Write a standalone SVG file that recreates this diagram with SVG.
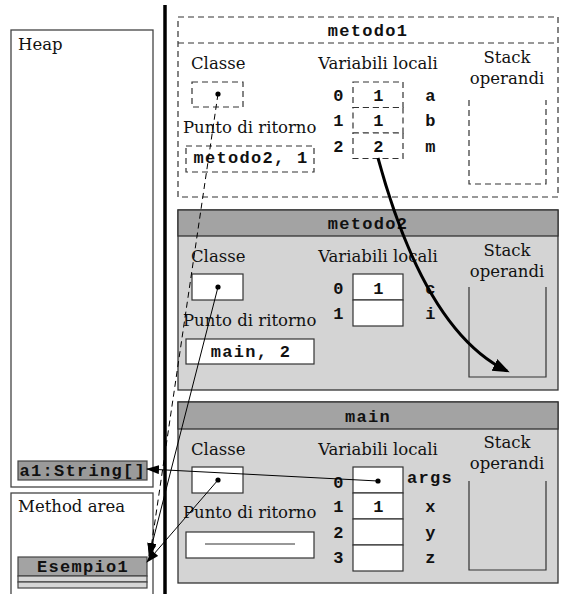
<svg xmlns="http://www.w3.org/2000/svg" width="570" height="594" viewBox="0 0 570 594">
<style>
.serif{font-family:"DejaVu Serif","Liberation Serif",serif;font-size:16.5px;fill:#111}
.mono{font-family:"Liberation Mono","DejaVu Sans Mono",monospace;font-size:17px;font-weight:bold;letter-spacing:1.3px;fill:#111}
.mid{text-anchor:middle}
.box{fill:#fff;stroke:#333;stroke-width:1.2}
.dbox{fill:#fff;stroke:#333;stroke-width:1.2;stroke-dasharray:6 4}
.frame{fill:#d4d4d4;stroke:#333;stroke-width:1.3}
.head{fill:#a3a3a3;stroke:#333;stroke-width:1.3}
.u{fill:none;stroke:#333;stroke-width:1.2}
.du{fill:none;stroke:#333;stroke-width:1.2;stroke-dasharray:6 4}
.dot{fill:#000}
.conn{fill:none;stroke:#000;stroke-width:1}
</style>
<defs>
<marker id="ah" markerUnits="userSpaceOnUse" markerWidth="14" markerHeight="10" refX="12" refY="4.5" orient="auto">
<path d="M0,0 L13,4.5 L0,9 z" fill="#000"/>
</marker>
<marker id="ahb" markerUnits="userSpaceOnUse" markerWidth="18" markerHeight="14" refX="14" refY="6.5" orient="auto">
<path d="M0,0 L17,6.5 L0,13 z" fill="#000"/>
</marker>
</defs>
<rect width="570" height="594" fill="#fff"/>
<g id="heap">
<rect x="11" y="30" width="142" height="457" fill="#fff" stroke="#444" stroke-width="1.3"/>
<text class="serif" x="18" y="50">Heap</text>
</g>
<g id="method-area">
<rect x="11" y="493" width="142" height="110" fill="#fff" stroke="#444" stroke-width="1.3"/>
<text class="serif" x="18" y="512">Method area</text>
</g>
<g id="a1">
<rect x="18" y="461" width="129" height="19" fill="#9a9a9a" stroke="#444" stroke-width="1.2"/>
<text class="mono" x="19.5" y="476">a1:String[]</text>
</g>
<g id="esempio1">
<rect x="18" y="557" width="129" height="19" fill="#a3a3a3" stroke="#444" stroke-width="1.2"/>
<rect x="18" y="576" width="129" height="6" fill="#d6d6d6" stroke="#444" stroke-width="1.2"/>
<rect x="18" y="582" width="129" height="6" fill="#d6d6d6" stroke="#444" stroke-width="1.2"/>
<text class="mono mid" x="83" y="572">Esempio1</text>
</g>
<line x1="165" y1="5" x2="165" y2="594" stroke="#000" stroke-width="3.5"/>
<g id="metodo1">
<rect class="dbox" x="178" y="17" width="380" height="180"/>
<line class="du" x1="178" y1="43" x2="558" y2="43"/>
<text class="mono mid" x="368" y="36">metodo1</text>
<text class="serif" x="191" y="69">Classe</text>
<text class="serif mid" x="378" y="69">Variabili locali</text>
<text class="serif mid" x="507" y="63">Stack</text>
<text class="serif mid" x="507" y="84">operandi</text>
<rect class="dbox" x="192" y="82" width="51" height="25"/>
<text class="serif" x="183" y="133">Punto di ritorno</text>
<rect class="dbox" x="186" y="146" width="128" height="26"/>
<text class="mono mid" x="251" y="163">metodo2, 1</text>
<rect class="dbox" x="353" y="82" width="50" height="25.5"/>
<rect class="dbox" x="353" y="107.5" width="50" height="25.5"/>
<rect class="dbox" x="353" y="133" width="50" height="25.5"/>
<text class="mono mid" x="339" y="101">0</text>
<text class="mono mid" x="339" y="126">1</text>
<text class="mono mid" x="339" y="152">2</text>
<text class="mono mid" x="379" y="101">1</text>
<text class="mono mid" x="379" y="126">1</text>
<text class="mono mid" x="379" y="152">2</text>
<text class="mono mid" x="431" y="101">a</text>
<text class="mono mid" x="431" y="126">b</text>
<text class="mono mid" x="431" y="152">m</text>
<path class="du" d="M469,100 V184 H546 V100"/>
</g>
<g id="metodo2">
<rect class="frame" x="178" y="210" width="380" height="180"/>
<rect class="head" x="178" y="210" width="380" height="26"/>
<text class="mono mid" x="368" y="229">metodo2</text>
<text class="serif" x="191" y="262">Classe</text>
<text class="serif mid" x="378" y="262">Variabili locali</text>
<text class="serif mid" x="507" y="256">Stack</text>
<text class="serif mid" x="507" y="277">operandi</text>
<rect class="box" x="192" y="274" width="51" height="26"/>
<text class="serif" x="183" y="326">Punto di ritorno</text>
<rect class="box" x="186" y="339" width="128" height="25"/>
<text class="mono mid" x="251" y="357">main, 2</text>
<rect class="box" x="353" y="274" width="50" height="26"/>
<rect class="box" x="353" y="300" width="50" height="26"/>
<text class="mono mid" x="339" y="294">0</text>
<text class="mono mid" x="339" y="319">1</text>
<text class="mono mid" x="379" y="294">1</text>
<text class="mono mid" x="431" y="294">c</text>
<text class="mono mid" x="431" y="319">i</text>
<path class="u" d="M469,287 V377 H546 V287"/>
</g>
<g id="main">
<rect class="frame" x="178" y="402" width="380" height="181"/>
<rect class="head" x="178" y="402" width="380" height="27"/>
<text class="mono mid" x="368" y="422">main</text>
<text class="serif" x="191" y="455">Classe</text>
<text class="serif mid" x="378" y="455">Variabili locali</text>
<text class="serif mid" x="507" y="448">Stack</text>
<text class="serif mid" x="507" y="469">operandi</text>
<rect class="box" x="192" y="467" width="51" height="26"/>
<text class="serif" x="183" y="518">Punto di ritorno</text>
<rect class="box" x="186" y="532" width="128" height="26"/>
<line x1="205" y1="544" x2="295" y2="544" stroke="#333" stroke-width="1.2"/>
<rect class="box" x="353" y="467" width="50" height="26"/>
<rect class="box" x="353" y="493" width="50" height="26"/>
<rect class="box" x="353" y="519" width="50" height="26"/>
<rect class="box" x="353" y="545" width="50" height="26"/>
<text class="mono mid" x="339" y="488">0</text>
<text class="mono mid" x="339" y="512">1</text>
<text class="mono mid" x="339" y="538">2</text>
<text class="mono mid" x="339" y="563">3</text>
<text class="mono mid" x="379" y="512">1</text>
<text class="mono" x="407" y="483">args</text>
<text class="mono mid" x="431" y="512">x</text>
<text class="mono mid" x="431" y="538">y</text>
<text class="mono mid" x="431" y="563">z</text>
<path class="u" d="M469,481 V570 H546 V481"/>
</g>
<g id="connectors">
<circle class="dot" cx="218" cy="94" r="2.6"/>
<circle class="dot" cx="218" cy="287" r="2.6"/>
<circle class="dot" cx="218" cy="480" r="2.6"/>
<circle class="dot" cx="378" cy="481" r="2.6"/>
<path class="conn" d="M218,94 L150,555" stroke-dasharray="6 4" marker-end="url(#ah)"/>
<path class="conn" d="M218,287 L149,556" marker-end="url(#ah)"/>
<path class="conn" d="M218,480 L147,562" marker-end="url(#ah)"/>
<path class="conn" d="M378,481 L147,469" marker-end="url(#ah)"/>
<path d="M378,158 Q425,331 507,371" fill="none" stroke="#000" stroke-width="3" marker-end="url(#ahb)"/>
</g>
</svg>
